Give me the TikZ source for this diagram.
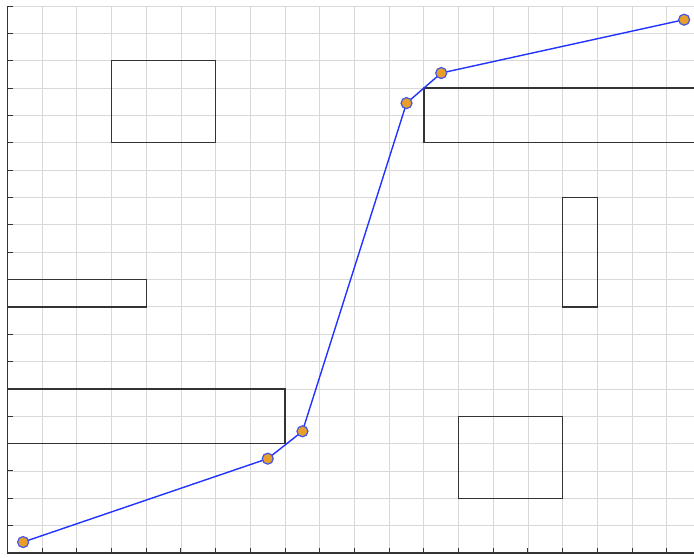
\documentclass[tikz,border=0pt]{standalone}
\usepackage{xcolor}
\usetikzlibrary{positioning}
\definecolor{routeblue}{HTML}{2233FF}
\definecolor{wayfill}{HTML}{E6A02A}
\definecolor{wayedge}{HTML}{4455E8}

\begin{document}
\begin{tikzpicture}[
    x=34.7pt, y=27.35pt,
    gridline/.style={draw=gray!30, line width=0.8pt},
    axisline/.style={draw=black!80, line width=1.4pt},
    tickline/.style={draw=black!80, line width=1pt},
    obstacle/.style={draw=black!80, line width=1.3pt},
    route/.style={draw=routeblue, line width=1.4pt},
    waypt/.style={circle, draw=wayedge, fill=wayfill, line width=1.2pt, inner sep=0pt, minimum size=11pt},
]

    % ===== FRAME =====
    \useasboundingbox (-0.216,-0.146) rectangle (19.784,20.22);
    \clip (-0.216,-0.146) rectangle (19.784,20.22);

    % ===== GRID =====
    \foreach \i in {1,...,20}
        \draw[gridline] (\i,0) -- (\i,20);
    \foreach \j in {1,...,20}
        \draw[gridline] (0,\j) -- (20,\j);

    % ===== AXES =====
    \draw[axisline] (0,20) -- (0,0) -- (20,0);
    \foreach \j in {1,...,20}
        \draw[tickline] (0,\j) -- ++(6pt,0);
    \foreach \i in {1,...,20}
        \draw[tickline] (\i,0) -- ++(0,5pt);

    % ===== OBSTACLES =====
    \draw[obstacle] (3,15) rectangle (6,18);
    \draw[obstacle] (12,15) rectangle (20,17);
    \draw[obstacle] (16,9) rectangle (17,13);
    \draw[obstacle] (0,9) rectangle (4,10);
    \draw[obstacle] (0,4) rectangle (8,6);
    \draw[obstacle] (13,2) rectangle (16,5);

    % ===== ROUTE =====
    \coordinate (p1) at (0.45,0.4);
    \coordinate (p2) at (7.5,3.45);
    \coordinate (p3) at (8.5,4.45);
    \coordinate (p4) at (11.5,16.45);
    \coordinate (p5) at (12.5,17.55);
    \coordinate (p6) at (19.5,19.5);

    \draw[route] (p1) -- (p2) -- (p3) -- (p4) -- (p5) -- (p6);
    \foreach \k in {1,...,6}
        \node[waypt] (m\k) at (p\k) {};

\end{tikzpicture}
\end{document}
